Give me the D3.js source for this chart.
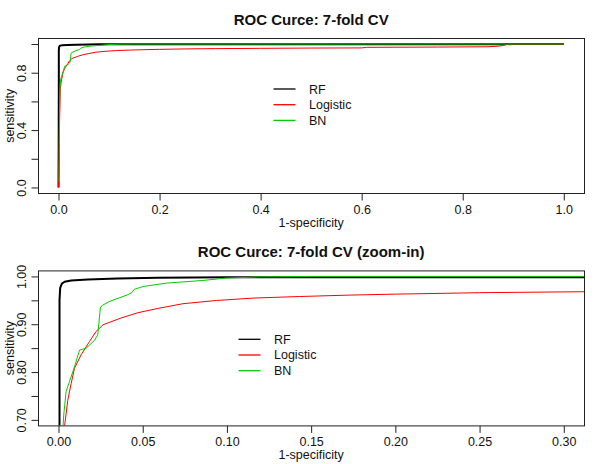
<!DOCTYPE html>
<html>
<head>
<meta charset="utf-8">
<script src="https://cdn.jsdelivr.net/npm/d3@7"></script>
<style>
  html, body { margin: 0; padding: 0; background: #fff; }
  svg { display: block; font-family: "Liberation Sans", Arial, Helvetica, sans-serif; }
</style>
</head>
<body>
<svg id="chart" width="600" height="464"></svg>
<script>
// ---------------- data ----------------
const seriesNames = ["RF", "Logistic", "BN"];
const seriesColors = ["#000000", "#FF0000", "#00CD00"];

const rfFpr = [0, 0.0004, 0.0006, 0.0006, 0.001, 0.002, 0.0036, 0.0075, 0.0174, 0.035, 0.059, 0.08, 0.1, 0.88, 0.9, 1.0];
const rfTpr = [0, 0.4, 0.7, 0.951, 0.976, 0.985, 0.989, 0.9916, 0.9937, 0.9955, 0.997, 0.998, 0.9985, 0.9985, 1.0, 1.0];

const logFpr = [0, 0.001, 0.002, 0.0036, 0.0055, 0.0075, 0.0095, 0.0134, 0.0184, 0.0223, 0.0265, 0.0371, 0.047, 0.0589, 0.0739, 0.0937, 0.1154, 0.143, 0.173, 0.2, 0.25, 0.31, 0.4, 0.5, 0.6, 0.61, 0.75, 0.85, 0.87, 0.88, 0.89, 1.0];
const logTpr = [0, 0.2, 0.45, 0.687, 0.741, 0.776, 0.808, 0.836, 0.864, 0.885, 0.899, 0.913, 0.924, 0.933, 0.943, 0.9497, 0.9547, 0.958, 0.961, 0.963, 0.966, 0.968, 0.970, 0.972, 0.973, 0.977, 0.979, 0.981, 0.985, 0.99, 1.0, 1.0];

const bnFpr = [0.001, 0.0015, 0.002, 0.0027, 0.0031, 0.0045, 0.0065, 0.0095, 0.0125, 0.0164, 0.0213, 0.0233, 0.0249, 0.0263, 0.0305, 0.0413, 0.0435, 0.045, 0.0502, 0.064, 0.0858, 0.0996, 0.12, 0.15, 1.0];
const bnTpr = [0.04, 0.3, 0.55, 0.687, 0.710, 0.759, 0.780, 0.811, 0.846, 0.850, 0.866, 0.878, 0.936, 0.940, 0.948, 0.962, 0.966, 0.973, 0.979, 0.986, 0.9916, 0.9966, 0.999, 1.0, 1.0];

const topTitle = "ROC Curce: 7-fold CV";
const bottomTitle = "ROC Curce: 7-fold CV (zoom-in)";
const xAxisTitle = "1-specificity";
const yAxisTitle = "sensitivity";

const topXTicks = [0, 0.2, 0.4, 0.6, 0.8, 1.0];
const topXLabels = ["0.0", "0.2", "0.4", "0.6", "0.8", "1.0"];
const topYTicks = [0, 0.2, 0.4, 0.6, 0.8, 1.0];
const topYLabels = ["0.0", "", "0.4", "", "0.8", ""];

const botXTicks = [0, 0.05, 0.10, 0.15, 0.20, 0.25, 0.30];
const botXLabels = ["0.00", "0.05", "0.10", "0.15", "0.20", "0.25", "0.30"];
const botYTicks = [0.70, 0.75, 0.80, 0.85, 0.90, 0.95, 1.00];
const botYLabels = ["0.70", "", "0.80", "", "0.90", "", "1.00"];

// ---------------- drawing ----------------
const FS = 12.5, FS_TITLE = 15;
const series = [
  { fpr: rfFpr, tpr: rfTpr, width: 2 },
  { fpr: logFpr, tpr: logTpr, width: 1 },
  { fpr: bnFpr, tpr: bnTpr, width: 1 }
].map((s, i) => ({ ...s, name: seriesNames[i], color: seriesColors[i],
  pts: s.fpr.map((f, j) => [f, s.tpr[j]]) }));

const svg = d3.select("#chart");

function panel(cfg) {
  const g = svg.append("g").attr("transform", `translate(0,${cfg.offY})`);
  const L = 38.3, R = 584, T = 38.3, B = 193.2;
  const x = d3.scaleLinear().domain(cfg.xDom).range([L, R]);
  const y = d3.scaleLinear().domain(cfg.yDom).range([B, T]);

  const clipId = "clip" + cfg.id;
  g.append("clipPath").attr("id", clipId)
    .append("rect").attr("x", L).attr("y", T).attr("width", R - L).attr("height", B - T);

  const line = d3.line().x(d => x(d[0])).y(d => y(d[1]));
  const lines = g.append("g").attr("clip-path", `url(#${clipId})`);
  series.forEach(s => {
    lines.append("path").attr("d", line(s.pts))
      .attr("fill", "none").attr("stroke", s.color)
      .attr("stroke-width", s.width).attr("stroke-linejoin", "round");
  });

  // box
  g.append("rect").attr("x", Math.round(L) + 0.5).attr("y", Math.round(T) + 0.5)
    .attr("width", Math.round(R) - Math.round(L)).attr("height", Math.round(B) - Math.round(T))
    .attr("fill", "none").attr("stroke", "#222").attr("stroke-width", 1);

  // x axis
  const xa = d3.axisBottom(x).tickValues(cfg.xTicks)
    .tickFormat((d, i) => cfg.xLabels[i]).tickSize(7).tickPadding(4.5);
  const gx = g.append("g").attr("transform", `translate(0,${Math.round(B) + 0.5})`).call(xa);
  gx.select(".domain").remove();
  gx.selectAll(".tick line").attr("stroke", "#222");
  gx.selectAll(".tick text").attr("font-size", FS).attr("fill", "#111")
    .attr("font-family", "Liberation Sans, Arial, sans-serif");

  // y axis
  const ya = d3.axisLeft(y).tickValues(cfg.yTicks)
    .tickFormat((d, i) => cfg.yLabels[i]).tickSize(7);
  const gy = g.append("g").attr("transform", `translate(${Math.round(L) + 0.5},0)`).call(ya);
  gy.select(".domain").remove();
  gy.selectAll(".tick line").attr("stroke", "#222");
  gy.selectAll(".tick text")
    .attr("x", null).attr("dy", null)
    .attr("transform", "translate(-12.3,0) rotate(-90)")
    .attr("text-anchor", "middle")
    .attr("font-size", FS).attr("fill", "#111")
    .attr("font-family", "Liberation Sans, Arial, sans-serif");

  // titles
  g.append("text").attr("x", (L + R) / 2).attr("y", 24.5)
    .attr("text-anchor", "middle").attr("font-weight", "bold").attr("font-size", FS_TITLE)
    .attr("fill", "#111").text(cfg.title);
  g.append("text").attr("x", (L + R) / 2).attr("y", 227)
    .attr("text-anchor", "middle").attr("font-size", FS).attr("fill", "#111").text(xAxisTitle);
  g.append("text").attr("transform", `translate(13.5,${(T + B) / 2}) rotate(-90)`)
    .attr("text-anchor", "middle").attr("font-size", FS).attr("fill", "#111").text(yAxisTitle);

  // legend
  const lg = g.append("g");
  series.forEach((s, i) => {
    const cy = cfg.legY + i * 15.7;
    lg.append("line").attr("x1", cfg.legX).attr("x2", cfg.legX + 22)
      .attr("y1", cy).attr("y2", cy).attr("stroke", s.color).attr("stroke-width", 1.3);
    lg.append("text").attr("x", cfg.legX + 35.5).attr("y", cy + 4.5)
      .attr("font-size", FS).attr("fill", "#111").text(s.name);
  });
}

panel({ id: "top", offY: 0, xDom: [-0.04, 1.04], yDom: [-0.04, 1.04],
  xTicks: topXTicks, xLabels: topXLabels, yTicks: topYTicks, yLabels: topYLabels,
  title: topTitle, legX: 273.5, legY: 89 });

panel({ id: "bot", offY: 232.4, xDom: [-0.012, 0.312], yDom: [0.688, 1.012],
  xTicks: botXTicks, xLabels: botXLabels, yTicks: botYTicks, yLabels: botYLabels,
  title: bottomTitle, legX: 238.5, legY: 106.9 });
</script>
</body>
</html>
